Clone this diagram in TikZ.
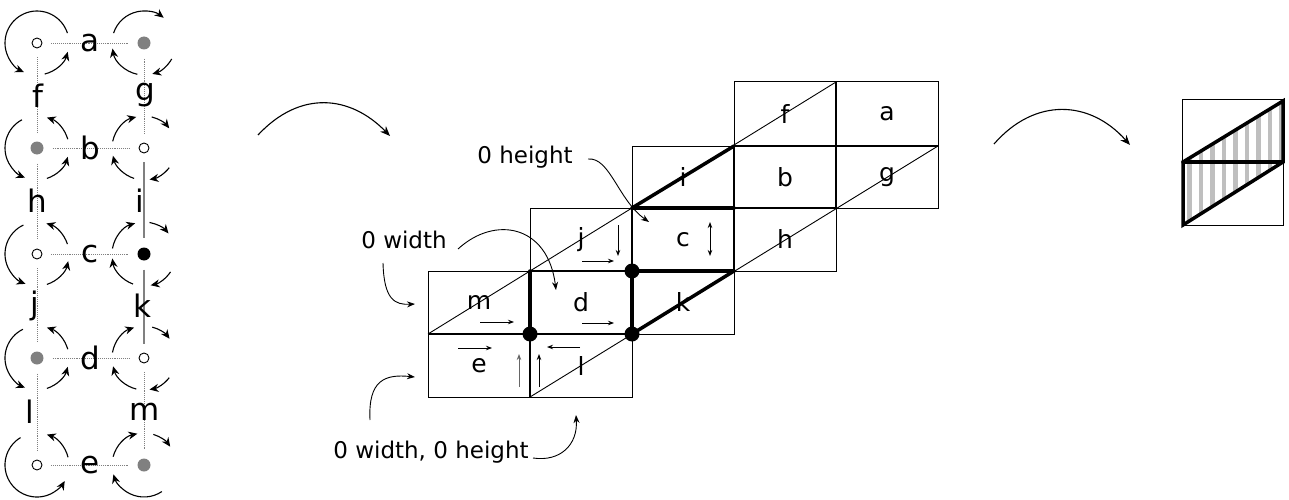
\documentclass[tikz,border=0pt]{standalone}
\usepackage{fontspec}
\setmainfont{DejaVu Sans}
\usetikzlibrary{arrows.meta}
\newcommand\rarc[3]{\draw[rotarr] ([shift={(-#2:32)}]#1.center) arc[start angle=-#2, end angle=-#3, radius=32];}
\begin{document}
\begin{tikzpicture}[x=1pt,y=-1pt,
  lbl/.style={font=\fontsize{31}{36}\selectfont, inner sep=0pt},
  glbl/.style={font=\fontsize{25}{29}\selectfont, inner sep=0pt},
  alb/.style={font=\fontsize{23}{27}\selectfont, inner sep=0pt},
  vopen/.style={circle, draw=black, fill=white, line width=0.9pt, minimum size=10pt, inner sep=0pt},
  vgray/.style={circle, fill=gray, minimum size=13pt, inner sep=0pt},
  vblack/.style={circle, fill=black, minimum size=13pt, inner sep=0pt},
  dedge/.style={densely dotted, gray, line width=0.9pt, shorten <=9pt, shorten >=9pt},
  sedge/.style={gray, line width=1.2pt, shorten <=9pt, shorten >=9pt},
  rotarr/.style={line width=1.1pt, -{Stealth[length=9pt,width=8pt]}},
  cellline/.style={line width=1pt},
  shared/.style={line width=1.6pt},
  thickline/.style={line width=3.5pt, line cap=round},
  dot/.style={circle, fill=black, minimum size=15pt, inner sep=0pt},
  smarr/.style={line width=0.9pt, -{Stealth[length=6pt,width=4.5pt]}},
  annarr/.style={line width=0.9pt, -{Stealth[length=8pt,width=6pt]}},
  bigarr/.style={line width=1.1pt, -{Stealth[length=10pt,width=8pt]}},
  stripe/.style={fill=gray!50}
]
\useasboundingbox (0,0) rectangle (1289,500);

% ---------------- left graph ----------------
\node[vopen]  (va1) at (37,43) {};
\node[vgray]  (va2) at (144,43) {};
\node[vgray]  (vb1) at (37,148) {};
\node[vopen]  (vb2) at (144,148) {};
\node[vopen]  (vc1) at (37,254) {};
\node[vblack] (vc2) at (144,254) {};
\node[vgray]  (vd1) at (37,358) {};
\node[vopen]  (vd2) at (144,358) {};
\node[vopen]  (ve1) at (37,465) {};
\node[vgray]  (ve2) at (144,465) {};

\draw[dedge] (va1) -- (va2);
\draw[dedge] (vb1) -- (vb2);
\draw[dedge] (vc1) -- (vc2);
\draw[dedge] (vd1) -- (vd2);
\draw[dedge] (ve1) -- (ve2);
\draw[dedge] (va1) -- (vb1);
\draw[dedge] (vb1) -- (vc1);
\draw[dedge] (vc1) -- (vd1);
\draw[dedge] (vd1) -- (ve1);
\draw[dedge] (va2) -- (vb2);
\draw[sedge] (vb2) -- (vc2);
\draw[sedge] (vc2) -- (vd2);
\draw[dedge] (vd2) -- (ve2);

\node[lbl] (la) at (90,43) {a};
\node[lbl] (lb) at (90,148) {b};
\node[lbl] (lc) at (90,254) {c};
\node[lbl] (ld) at (90,358) {d};
\node[lbl] (le) at (90,465) {e};
\node[lbl] (lf) at (37.5,95.5) {f};
\node[lbl] (lg) at (145,95.5) {g};
\node[lbl] (lh) at (37.5,201) {h};
\node[lbl] (li) at (140,201) {i};
\node[lbl] (lj) at (34.5,306) {j};
\node[lbl] (lk) at (142,306) {k};
\node[lbl] (ll) at (29.5,411.5) {l};
\node[lbl] (lm) at (145,411.5) {m};

% rotation arcs
\rarc{va1}{18}{246} \rarc{va1}{284}{344}
\rarc{va2}{162}{52} \rarc{va2}{-30}{-75} \rarc{va2}{258}{190}
\rarc{vb1}{16}{72} \rarc{vb1}{118}{248} \rarc{vb1}{288}{344}
\rarc{vb2}{168}{104} \rarc{vb2}{76}{38} \rarc{vb2}{-38}{-80} \rarc{vb2}{252}{194}
\rarc{vc1}{18}{73} \rarc{vc1}{115}{249} \rarc{vc1}{288}{347}
\rarc{vc2}{170}{106} \rarc{vc2}{80}{40} \rarc{vc2}{-34}{-78} \rarc{vc2}{250}{188}
\rarc{vd1}{16}{72} \rarc{vd1}{116}{248} \rarc{vd1}{288}{344}
\rarc{vd2}{170}{108} \rarc{vd2}{75}{37} \rarc{vd2}{-38}{-80} \rarc{vd2}{256}{195}
\rarc{ve1}{14}{72} \rarc{ve1}{121}{330}
\rarc{ve2}{165}{102} \rarc{ve2}{73}{35} \rarc{ve2}{304}{197}

% ---------------- big arrows ----------------
\coordinate (p1) at (258,135);
\coordinate (p2) at (390,136);
\draw[bigarr] (p1) .. controls (300,90) and (350,95) .. (p2);
\coordinate (q1) at (994,144);
\coordinate (q2) at (1130,145);
\draw[bigarr] (q1) .. controls (1035,97) and (1090,100) .. (q2);

% ---------------- grid ----------------
\draw[cellline] (734,82) rectangle (836,146);  % f
\draw[cellline] (836,82) rectangle (938,146);  % a
\draw[cellline] (632,146) rectangle (734,208); % i
\draw[cellline] (734,146) rectangle (836,208); % b
\draw[cellline] (836,146) rectangle (938,208); % g
\draw[cellline] (530,208) rectangle (632,271); % j
\draw[cellline] (632,208) rectangle (734,271); % c
\draw[cellline] (734,208) rectangle (836,271); % h
\draw[cellline] (428,271) rectangle (530,334); % m
\draw[cellline] (530,271) rectangle (632,334); % d
\draw[cellline] (632,271) rectangle (734,334); % k
\draw[cellline] (428,334) rectangle (530,397); % e
\draw[cellline] (530,334) rectangle (632,397); % l
\draw[shared] (836,82) -- (836,208);
\draw[shared] (734,146) -- (938,146);
\draw[shared] (734,146) -- (734,271);
\draw[shared] (734,208) -- (836,208);
\draw[shared] (632,208) -- (632,271);
\draw[shared] (530,271) -- (632,271);
\draw[shared] (530,334) -- (530,397);
\draw[shared] (428,334) -- (632,334);
\draw[line width=0.9pt] (428,334) -- (836,82);
\draw[line width=0.9pt] (530,397) -- (938,146);
\draw[thickline] (632,208) -- (734,146);
\draw[thickline] (632,208) -- (734,208);
\draw[thickline] (632,271) -- (734,271);
\draw[thickline] (632,271) -- (632,334);
\draw[thickline] (632,334) -- (734,271);
\draw[thickline] (530,271) -- (530,334);
\node[dot] (d1) at (530,334) {};
\node[dot] (d2) at (632,271) {};
\node[dot] (d3) at (632,334) {};

\node[glbl] (gf) at (785,114) {f};
\node[glbl] (ga) at (887,114) {a};
\node[glbl] (gi) at (683,177) {i};
\node[glbl] (gb) at (785,177) {b};
\node[glbl] (gg) at (887,177) {g};
\node[glbl] (gj) at (581,239.5) {j};
\node[glbl] (gc) at (683,239.5) {c};
\node[glbl] (gh) at (785,239.5) {h};
\node[glbl] (gm) at (479,302.5) {m};
\node[glbl] (gd) at (581,302.5) {d};
\node[glbl] (gk) at (683,302.5) {k};
\node[glbl] (ge) at (479,365.5) {e};
\node[glbl] (gl) at (581,365.5) {l};

\draw[smarr] (618,225) -- (618,256);
\draw[smarr] (582,261) -- (614,261);
\draw[line width=0.9pt, {Stealth[length=6pt,width=4.5pt]}-{Stealth[length=6pt,width=4.5pt]}] (710,222) -- (710,256);
\draw[smarr] (582,323) -- (614,323);
\draw[smarr] (480,322) -- (514,322);
\draw[smarr] (458,348) -- (492,348);
\draw[smarr, gray!80!black] (519,387) -- (519,354);
\draw[smarr] (539,387) -- (539,354);
\draw[smarr] (580,347) -- (547,347);

% annotations
\node[alb] (t1) at (525,157) {0 height};
\coordinate (h1) at (588,159);
\coordinate (h2) at (649,222);
\draw[annarr] (h1) .. controls (610,157) and (618,200) .. (h2);

\node[alb] (t2) at (404,240) {0 width};
\coordinate (w1) at (458,249);
\coordinate (w2) at (556,290);
\draw[annarr] (w1) .. controls (495,215) and (548,225) .. (w2);
\coordinate (w3) at (383,263);
\coordinate (w4) at (415,304);
\draw[annarr] (w3) .. controls (384,300) and (395,305) .. (w4);

\node[alb] (t3) at (431,452) {0 width, 0 height};
\coordinate (z1) at (370,420);
\coordinate (z2) at (415,377);
\draw[annarr] (z1) .. controls (368,380) and (385,374) .. (z2);
\coordinate (z3) at (533,458);
\coordinate (z4) at (576,415);
\draw[annarr] (z3) .. controls (560,462) and (578,445) .. (z4);

% ---------------- right square ----------------
\begin{scope}
\clip (1183,225) -- (1183,162) -- (1283,101) -- (1283,162) -- cycle;
\foreach \i in {0,...,8} \fill[stripe] ({1187+11.5*\i},90) rectangle ++(4.5,140);
\end{scope}
\draw[cellline] (1182,100) rectangle (1283,225);
\draw[thickline] (1183,225) -- (1183,162) -- (1283,101) -- (1283,162) -- cycle;
\draw[thickline] (1183,162) -- (1283,162);
\end{tikzpicture}
\end{document}
